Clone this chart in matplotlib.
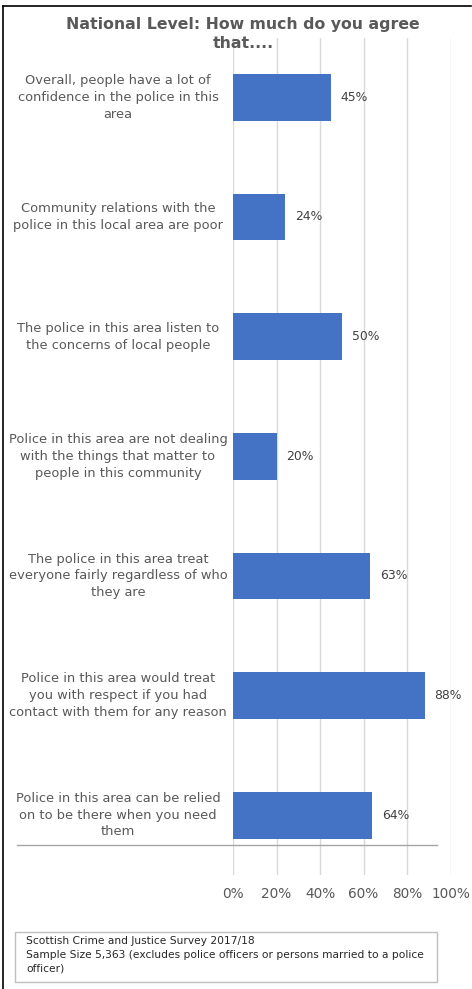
import matplotlib.pyplot as plt
import matplotlib.transforms as mtransforms
from matplotlib.lines import Line2D
from matplotlib.patches import Rectangle

# survey statements (top to bottom) and share agreeing
statements = [
    'Overall, people have a lot of\nconfidence in the police in this\narea',
    'Community relations with the\npolice in this local area are poor',
    'The police in this area listen to\nthe concerns of local people',
    'Police in this area are not dealing\nwith the things that matter to\npeople in this community',
    'The police in this area treat\neveryone fairly regardless of who\nthey are',
    'Police in this area would treat\nyou with respect if you had\ncontact with them for any reason',
    'Police in this area can be relied\non to be there when you need\nthem',
]
agree_pct = [45, 24, 50, 20, 63, 88, 64]
x_ticks = [0, 20, 40, 60, 80, 100]
x_ticklabels = ['0%', '20%', '40%', '60%', '80%', '100%']

bar_color = '#4472C4'
text_color = '#595959'
W, H = 472, 989

fig = plt.figure(figsize=(W / 100, H / 100), dpi=100)
ax = fig.add_axes([233 / W, 1 - 875 / H, (450.7 - 233) / W, (875 - 37.5) / H])

y_pos = list(range(len(agree_pct)))
ax.barh(y_pos, agree_pct, height=0.39, color=bar_color, zorder=3)
ax.set_ylim(len(agree_pct) - 0.5, -0.5)
ax.set_xlim(0, 100)

for y, v in zip(y_pos, agree_pct):
    ax.text(v + 4.5, y, f'{v}%', va='center', ha='left',
            fontsize=8.9, color='#404040')

ax.set_xticks(x_ticks)
ax.set_xticklabels(x_ticklabels, fontsize=9.8, color=text_color)
ax.tick_params(axis='x', length=0, pad=9)
ax.set_yticks([])
ax.grid(axis='x', color='#d9d9d9', linewidth=1, zorder=0)
for s in ax.spines.values():
    s.set_visible(False)

# category labels, centred in the left margin
trans = mtransforms.blended_transform_factory(fig.transFigure, ax.transData)
for y, lab in zip(y_pos, statements):
    ax.text(118 / W, y, lab, transform=trans, ha='center', va='center',
            multialignment='center', fontsize=9.35, color=text_color,
            linespacing=1.38)

# horizontal rule across the bottom of the bars
fig.add_artist(Line2D([17 / W, 437 / W], [1 - 845 / H, 1 - 845 / H],
                      color='#a6a6a6', linewidth=1))

fig.text(243 / W, 1 - 34 / H, 'National Level: How much do you agree\nthat....',
         ha='center', va='center', fontsize=11.3, fontweight='bold',
         color=text_color, linespacing=1.38)

# source note box
fig.add_artist(Rectangle((15 / W, 1 - 982 / H), (437 - 15) / W, (982 - 932) / H,
                         transform=fig.transFigure, facecolor='white',
                         edgecolor='#bfbfbf', linewidth=1))
fig.text(26 / W, 1 - 936 / H,
         'Scottish Crime and Justice Survey 2017/18\n'
         'Sample Size 5,363 (excludes police officers or persons married to a police\n'
         'officer)',
         ha='left', va='top', fontsize=7.7, color='#262626', linespacing=1.45)

# outer frame: left and top edges
fig.add_artist(Line2D([2.5 / W, 2.5 / W], [0, 1 - 5.5 / H], color='black', linewidth=1.2))
fig.add_artist(Line2D([2.5 / W, 471 / W], [1 - 5.5 / H, 1 - 5.5 / H], color='black', linewidth=1.2))

fig.savefig('out.png', dpi=100)
